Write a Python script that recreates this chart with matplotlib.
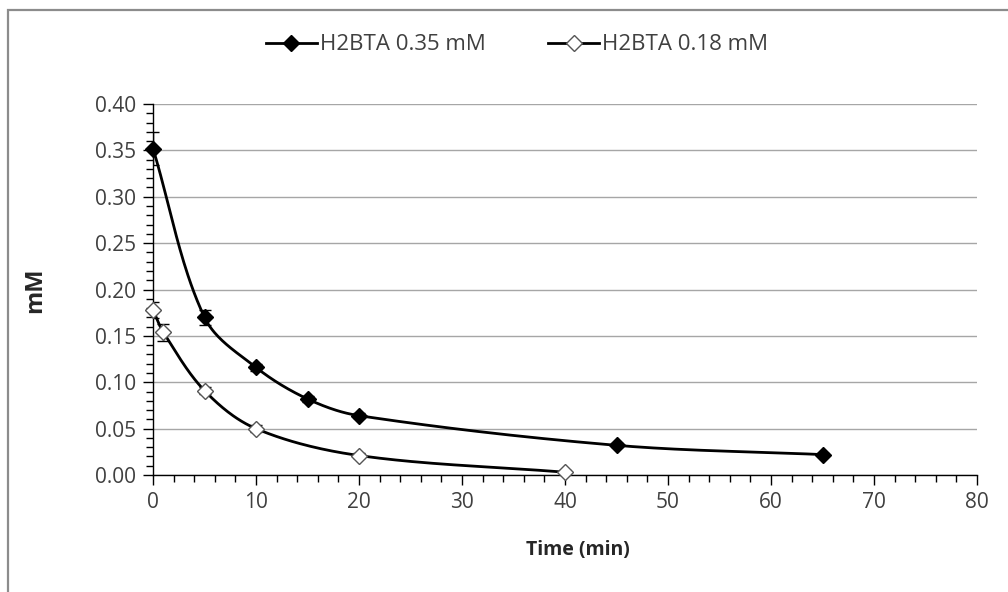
import numpy as np
import matplotlib
matplotlib.use("Agg")
import matplotlib.pyplot as plt
from matplotlib.patches import Rectangle
from matplotlib.ticker import MultipleLocator, FormatStrFormatter
from matplotlib.lines import Line2D

plt.rcParams['font.family'] = ['Open Sans', 'DejaVu Sans']

# Data
t1 = [0, 5, 10, 15, 20, 45, 65]
c1 = [0.352, 0.170, 0.116, 0.082, 0.064, 0.032, 0.022]
e1 = [0.018, 0.008, 0.004, 0.003, 0.003, 0.002, 0.002]
t2 = [0, 1, 5, 10, 20, 40]
c2 = [0.178, 0.154, 0.091, 0.050, 0.021, 0.003]
e2 = [0.009, 0.009, 0.004, 0.004, 0.003, 0.002]
labels = ["H2BTA 0.35 mM", "H2BTA 0.18 mM"]

W, H = 1008, 592
fig = plt.figure(figsize=(W / 100, H / 100), dpi=100)
L, R, B, T = 153, 977, 475, 104
ax = fig.add_axes([L / W, 1 - B / H, (R - L) / W, (B - T) / H])

# outer chart border
fig.patches.append(Rectangle((8 / W, -0.1), 1.2, 1 - 10 / H + 0.1, transform=fig.transFigure,
                             fill=False, edgecolor='#8c8c8c', lw=1.6))

XMAX, YMAX = 80, 0.40
ax.set_xlim(0, XMAX)
ax.set_ylim(0, YMAX)


def smooth(xs, ys, n=40):
    # smoothed line (Hermite/Bezier) computed in pixel space
    sx = (R - L) / XMAX
    sy = (B - T) / YMAX
    P = np.column_stack([np.asarray(xs) * sx, np.asarray(ys) * sy])
    m = len(P)
    D = []
    for i in range(m):
        a = P[i - 1] if i > 0 else P[i]
        b = P[i + 1] if i < m - 1 else P[i]
        d = b - a
        D.append(d / np.linalg.norm(d))
    out = []
    for i in range(m - 1):
        p1, p2 = P[i], P[i + 1]
        seg = np.linalg.norm(p2 - p1)
        c1 = p1 + D[i] * seg / 3
        c2 = p2 - D[i + 1] * seg / 3
        s = np.linspace(0, 1, n)[:, None]
        cur = (1 - s) ** 3 * p1 + 3 * (1 - s) ** 2 * s * c1 + 3 * (1 - s) * s ** 2 * c2 + s ** 3 * p2
        out.append(cur if i == 0 else cur[1:])
    out = np.vstack(out)
    return out[:, 0] / sx, out[:, 1] / sy


ax.yaxis.grid(True, color='#a6a6a6', lw=1)
ax.set_axisbelow(True)

MS = 8.5
for xs, ys, es, fc, ec, lab in [(t1, c1, e1, 'black', 'black', labels[0]),
                                 (t2, c2, e2, 'white', '#555555', labels[1])]:
    sx_, sy_ = smooth(xs, ys)
    ax.plot(sx_, sy_, color='black', lw=2, zorder=3)
    ax.errorbar(xs, ys, yerr=es, fmt='none', ecolor='black', elinewidth=1, capsize=4, capthick=1, zorder=4)
    ax.plot(xs, ys, ls='none', marker='D', ms=MS, mfc=fc, mec=ec, mew=1, zorder=5, clip_on=False)

# legend
h1 = Line2D([], [], color='black', lw=2, marker='D', ms=MS, mfc='black', mec='black')
h2 = Line2D([], [], color='black', lw=2, marker='D', ms=MS, mfc='white', mec='#555555', mew=1)
leg = fig.legend([h1, h2], labels, loc='center', bbox_to_anchor=(517 / W, 1 - 45 / H), ncol=2,
                 frameon=False, fontsize=16, handlelength=2.3, columnspacing=2.8, handletextpad=0.15,
                 labelcolor='#404040')

ax.xaxis.set_major_locator(MultipleLocator(10))
ax.xaxis.set_minor_locator(MultipleLocator(2))
ax.yaxis.set_major_locator(MultipleLocator(0.05))
ax.yaxis.set_minor_locator(MultipleLocator(0.01))
ax.yaxis.set_major_formatter(FormatStrFormatter('%.2f'))
ax.tick_params(which='major', direction='out', length=7, width=1, color='black',
               labelsize=15, labelcolor='#404040', pad=5)
ax.tick_params(axis='y', which='major', pad=5)
ax.tick_params(which='minor', direction='out', length=5, width=1, color='black')
for s in ['top', 'right']:
    ax.spines[s].set_visible(False)
for s in ['left', 'bottom']:
    ax.spines[s].set_color('black')
    ax.spines[s].set_linewidth(1)

ax.set_xlabel('Time (min)', fontsize=14, fontweight='bold', color='#262626')
ax.set_ylabel('mM', fontsize=17, fontweight='bold', color='#262626')
ax.xaxis.label.set_verticalalignment('center')
ax.yaxis.label.set_verticalalignment('center')
ax.xaxis.set_label_coords((578 - L) / (R - L), (B - 550) / (B - T))
ax.yaxis.set_label_coords((35 - L) / (R - L), (B - 290) / (B - T))

fig.savefig('out.png', dpi=100)
